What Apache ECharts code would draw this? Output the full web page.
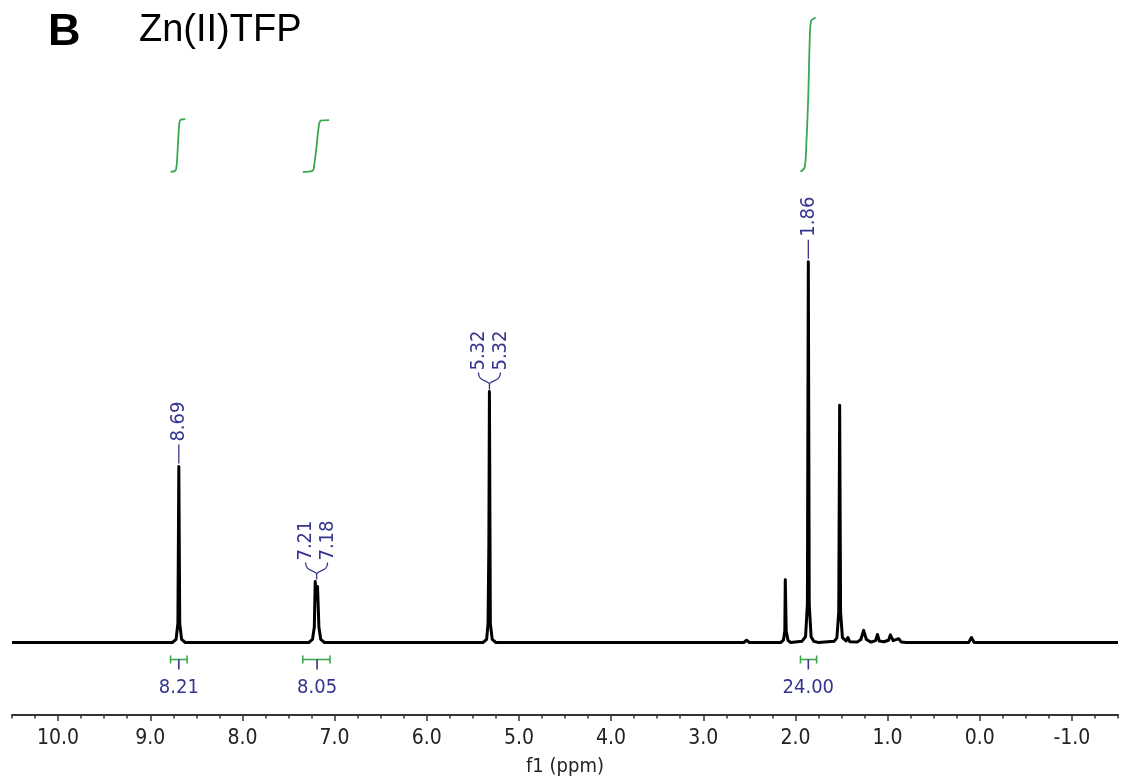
<!DOCTYPE html>
<html>
<head>
<meta charset="utf-8">
<script src="https://cdn.jsdelivr.net/npm/echarts@6/dist/echarts.min.js"></script>
<style>html,body{margin:0;padding:0;background:#fff;}#chart{width:1121px;height:782px;}</style>
</head>
<body>
<div id="chart"></div>
<script>
// ---------- DATA ----------
const panelLetter = 'B';
const compoundName = 'Zn(II)TFP';
const axisName = 'f1 (ppm)';
const tickValues = [10, 9, 8, 7, 6, 5, 4, 3, 2, 1, 0, -1];
const tickLabels = ['10.0', '9.0', '8.0', '7.0', '6.0', '5.0', '4.0', '3.0', '2.0', '1.0', '0.0', '-1.0'];

// spectrum [ppm, intensity] (tallest peak = 100)
const spectrum = [
  [10.5, 0],
  [8.76, 0], [8.72, 0.8], [8.70, 5], [8.69, 46.2], [8.68, 5], [8.66, 0.8], [8.62, 0],
  [7.28, 0], [7.24, 0.8], [7.22, 4], [7.21, 16.0], [7.197, 11], [7.185, 14.7], [7.17, 4], [7.15, 0.8], [7.11, 0],
  [5.39, 0], [5.35, 0.8], [5.335, 5], [5.326, 26], [5.32, 65.9], [5.31, 5], [5.29, 0.8], [5.25, 0],
  [2.56, 0], [2.53, 0.6], [2.50, 0],
  [2.16, 0], [2.13, 0.6], [2.115, 3], [2.11, 16.5], [2.10, 3], [2.08, 0.5], [2.05, 0],
  [1.93, 0.3], [1.89, 1.5], [1.87, 10], [1.86, 100], [1.85, 10], [1.83, 1.5], [1.80, 0.3], [1.75, 0],
  [1.58, 0.3], [1.55, 1.2], [1.53, 8], [1.52, 62.3], [1.51, 8], [1.49, 1.3],
  [1.45, 0.4], [1.43, 1.3], [1.41, 0.2], [1.33, 0.1], [1.29, 0.8], [1.26, 3.2], [1.23, 0.8],
  [1.18, 0.1], [1.13, 0.5], [1.11, 2.1], [1.09, 0.4], [1.04, 0.2], [0.99, 0.6], [0.97, 2.0],
  [0.94, 0.5], [0.88, 1.0], [0.85, 0.1], [0.80, 0],
  [0.12, 0], [0.09, 1.3], [0.06, 0],
  [-1.5, 0]
];

// peak picking labels (groups share one connector)
const peakGroups = [
  ['8.69'],
  ['7.21', '7.18'],
  ['5.32', '5.32'],
  ['1.86']
];
const peakGroupPpm = [8.69, 7.195, 5.32, 1.86];

// integrals
const integralFrom = [8.78, 7.345, 1.945];
const integralTo = [8.60, 7.05, 1.77];
const integralPeak = [8.69, 7.19, 1.86];
const integralValues = [8.21, 8.05, 24.00];
const integralLabels = ['8.21', '8.05', '24.00'];
// integral curve shapes: [ppm, fraction of integral]
const integralCurves = [
  [[8.78, 0], [8.73, 0.02], [8.715, 0.1], [8.70, 0.5], [8.685, 0.92], [8.67, 0.99], [8.62, 1]],
  [[7.345, 0], [7.24, 0.02], [7.22, 0.15], [7.195, 0.5], [7.17, 0.9], [7.15, 0.99], [7.06, 1]],
  [[1.945, 0], [1.90, 0.03], [1.88, 0.2], [1.86, 0.5], [1.845, 0.85], [1.83, 0.98], [1.78, 1]]
];

// ---------- RENDER ----------
const GREEN = '#3ba84f';
const BLUE = '#35358f';
const FONT = "'DejaVu Sans Condensed', 'Liberation Sans Narrow', 'DejaVu Sans', sans-serif";
const INT_BASE = 123.6;      // intensity level of integral curve baseline
const INT_SCALE = 1.686;     // intensity units per integral unit

function heightAt(ppm) {
  let best = 0;
  spectrum.forEach(p => { if (Math.abs(p[0] - ppm) <= 0.02 && p[1] > best) best = p[1]; });
  return best;
}

const minorTicks = [];
for (let v = 10.5; v >= -1.5 - 1e-9; v -= 0.25) minorTicks.push(Math.round(v * 100) / 100);

const series = [];
series.push({
  type: 'line', xAxisIndex: 0, yAxisIndex: 0, data: spectrum, symbol: 'none',
  lineStyle: { color: '#000', width: 3, join: 'round' }, z: 3, silent: true
});
integralCurves.forEach((curve, i) => {
  series.push({
    type: 'line', data: curve.map(p => [p[0], INT_BASE + p[1] * integralValues[i] * INT_SCALE]),
    symbol: 'none', smooth: 0.35, lineStyle: { color: GREEN, width: 1.8 }, z: 2, silent: true
  });
});
// integral brackets + labels
series.push({
  type: 'custom', coordinateSystem: 'cartesian2d', silent: true, z: 4,
  data: integralValues.map((v, i) => [integralPeak[i], 0]),
  renderItem: function (params, api) {
    const i = params.dataIndex;
    const a = api.coord([integralFrom[i], 0]);
    const b = api.coord([integralTo[i], 0]);
    const c = api.coord([integralPeak[i], 0]);
    const y = a[1] + 17;
    const ls = { stroke: GREEN, lineWidth: 1.6 };
    return {
      type: 'group', children: [
        { type: 'line', shape: { x1: a[0], y1: y, x2: b[0], y2: y }, style: ls },
        { type: 'line', shape: { x1: a[0], y1: y - 4, x2: a[0], y2: y + 4 }, style: ls },
        { type: 'line', shape: { x1: b[0], y1: y - 4, x2: b[0], y2: y + 4 }, style: ls },
        { type: 'line', shape: { x1: c[0], y1: y, x2: c[0], y2: y + 10 }, style: { stroke: BLUE, lineWidth: 1.6 } },
        { type: 'text', x: c[0], y: y + 28, style: { text: integralLabels[i], fill: BLUE, font: '20px ' + FONT, align: 'center', verticalAlign: 'middle' } }
      ]
    };
  }
});
// peak labels
series.push({
  type: 'custom', coordinateSystem: 'cartesian2d', silent: true, z: 5,
  data: peakGroupPpm.map(p => [p, heightAt(p)]),
  renderItem: function (params, api) {
    const i = params.dataIndex;
    const pt = api.coord([api.value(0), api.value(1)]);
    const x = pt[0], top = pt[1];
    const labels = peakGroups[i];
    const children = [];
    const ls = { stroke: BLUE, lineWidth: 1.3, fill: null };
    const tf = '20px ' + FONT;
    if (labels.length === 1) {
      children.push({ type: 'line', shape: { x1: x, y1: top - 3, x2: x, y2: top - 22 }, style: ls });
      children.push({ type: 'text', x: x, y: top - 25, rotation: Math.PI / 2,
        style: { text: labels[0], fill: BLUE, font: tf, align: 'left', verticalAlign: 'middle' } });
    } else {
      const jy = top - 8;
      children.push({ type: 'line', shape: { x1: x, y1: top - 2, x2: x, y2: jy }, style: ls });
      [-1, 1].forEach((s, k) => {
        const lx = x + s * 11;
        children.push({ type: 'bezierCurve', shape: { x1: x, y1: jy, cpx1: x + s * 3, cpy1: jy - 4, cpx2: lx, cpy2: jy - 2, x2: lx, y2: jy - 11 }, style: ls });
        children.push({ type: 'text', x: lx, y: jy - 13, rotation: Math.PI / 2,
          style: { text: labels[k], fill: BLUE, font: tf, align: 'left', verticalAlign: 'middle' } });
      });
    }
    return { type: 'group', children: children };
  }
});

const chart = echarts.init(document.getElementById('chart'), null, { renderer: 'canvas' });
chart.setOption({
  animation: false,
  backgroundColor: '#fff',
  title: [
    { text: panelLetter, left: 48, top: 10, padding: 0, textStyle: { fontSize: 45, fontWeight: 'bold', color: '#000', fontFamily: "'Liberation Sans', Arial, sans-serif" } },
    { text: compoundName, left: 139, top: 12, padding: 0, textStyle: { fontSize: 38, fontWeight: 'normal', color: '#000', fontFamily: "'Liberation Sans', Arial, sans-serif" } }
  ],
  grid: { left: 12, right: 3, top: 10, bottom: 67, containLabel: false },
  xAxis: [
    {
      type: 'value', inverse: true, min: -1.5, max: 10.5, position: 'bottom',
      name: axisName, nameLocation: 'middle', nameGap: 42,
      nameTextStyle: { fontSize: 20, color: '#222', fontFamily: FONT },
      axisLine: { onZero: false, lineStyle: { color: '#333', width: 2 } },
      axisTick: { customValues: tickValues, length: 6, lineStyle: { color: '#333', width: 1.5 } },
      axisLabel: {
        customValues: tickValues, margin: 13, fontSize: 21, color: '#222', fontFamily: FONT,
        formatter: v => { const k = tickValues.findIndex(t => Math.abs(t - v) < 1e-6); return k >= 0 ? tickLabels[k] : ''; }
      },
      splitLine: { show: false }
    },
    {
      type: 'value', inverse: true, min: -1.5, max: 10.5, position: 'bottom', gridIndex: 0,
      axisLine: { show: false, onZero: false },
      axisTick: { customValues: minorTicks, length: 3.5, lineStyle: { color: '#333', width: 1.5 } },
      axisLabel: { show: false }, splitLine: { show: false }
    }
  ],
  yAxis: { type: 'value', min: -19.04, max: 166.1, show: false },
  series: series
});
</script>
</body>
</html>
